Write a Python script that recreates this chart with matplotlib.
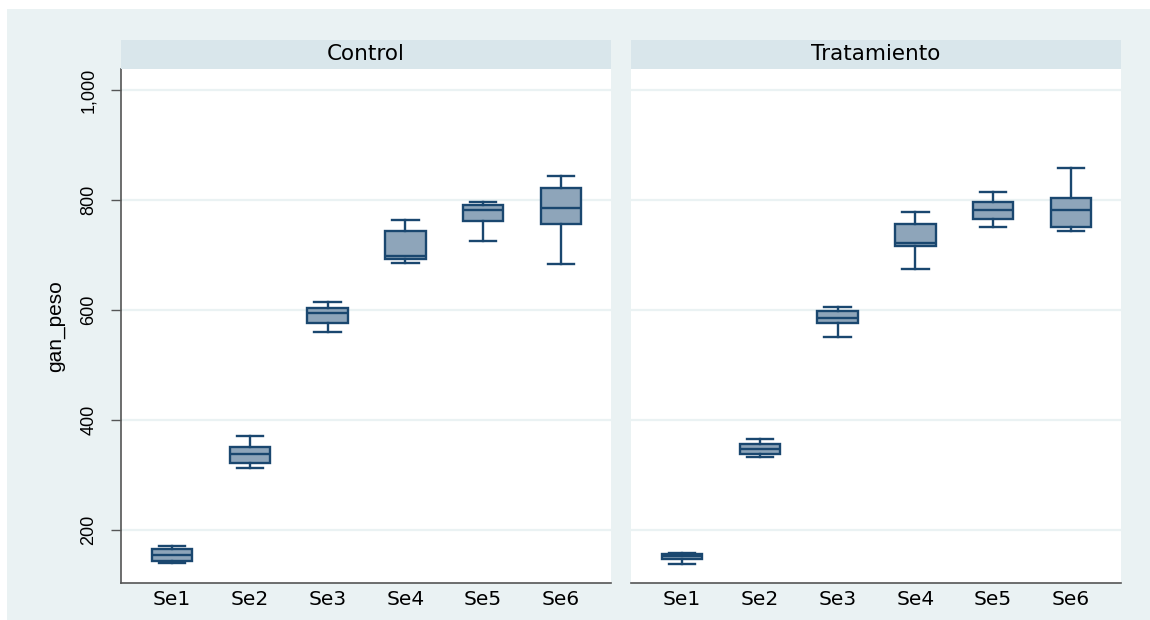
import matplotlib
matplotlib.use("Agg")
import matplotlib.pyplot as plt
from matplotlib.patches import Rectangle

plt.rcParams['font.family'] = ['Liberation Sans', 'DejaVu Sans']

weeks = ["Se1", "Se2", "Se3", "Se4", "Se5", "Se6"]
groups = ["Control", "Tratamiento"]

# per group: lower whisker, q1, median, q3, upper whisker
control_low = [140, 313, 560, 685, 725, 683]
control_q1 = [144, 322, 576, 693, 762, 756]
control_med = [155, 338, 594, 698, 781, 785]
control_q3 = [165, 351, 603, 743, 790, 821]
control_high = [171, 371, 614, 763, 796, 844]

trat_low = [138, 333, 550, 675, 751, 744]
trat_q1 = [148, 339, 576, 716, 765, 751]
trat_med = [152, 347, 585, 721, 781, 781]
trat_q3 = [157, 356, 598, 756, 796, 803]
trat_high = [159, 365, 605, 778, 814, 858]

yticks = [200, 400, 600, 800, 1000]
ytick_labels = ["200", "400", "600", "800", "1,000"]

data = {
    "Control": (control_low, control_q1, control_med, control_q3, control_high),
    "Tratamiento": (trat_low, trat_q1, trat_med, trat_q3, trat_high),
}

W, H = 1150, 620
fig = plt.figure(figsize=(W / 100, H / 100), dpi=100)
bg = "#EAF2F3"
fig.patches.append(Rectangle((7 / W, 0), 1 - 7 / W, 1 - 9 / H, transform=fig.transFigure,
                             facecolor=bg, edgecolor="none", zorder=-10))

navy = "#1A476F"
fill = "#8EA5BA"
lefts = [121, 631]
pw = 490
top_px, bot_px = 69, 583
head_top = 40
wide_font = ['DejaVu Sans']
narrow_font = ['Liberation Sans', 'DejaVu Sans']

for i, g in enumerate(groups):
    ax = fig.add_axes([lefts[i] / W, 1 - bot_px / H, pw / W, (bot_px - top_px) / H])
    ax.set_facecolor("white")
    lo, q1, med, q3, hi = data[g]
    stats = []
    for k in range(len(weeks)):
        stats.append(dict(whislo=lo[k], q1=q1[k], med=med[k], q3=q3[k], whishi=hi[k], label=weeks[k]))
    ax.bxp(stats, positions=range(1, len(weeks) + 1), widths=0.52, showfliers=False,
           patch_artist=True,
           boxprops=dict(facecolor=fill, edgecolor=navy, linewidth=1.7),
           medianprops=dict(color=navy, linewidth=1.7),
           whiskerprops=dict(color=navy, linewidth=1.7),
           capprops=dict(color=navy, linewidth=1.7),
           capwidths=0.34)
    ax.set_xlim(0.345, 6.645)
    ax.set_ylim(103.6, 1038)
    ax.set_yticks(yticks)
    for y in yticks:
        ax.axhline(y, color=bg, linewidth=1.6, zorder=0.5)
    ax.set_xticks(range(1, len(weeks) + 1))
    ax.set_xticklabels(weeks, fontsize=14.5, family=wide_font)
    ax.tick_params(axis='x', length=0, pad=5)
    for s in ["top", "right"]:
        ax.spines[s].set_visible(False)
    ax.spines["bottom"].set_color("#555555")
    ax.spines["bottom"].set_linewidth(1.2)
    if i == 0:
        ax.spines["left"].set_color("#555555")
        ax.spines["left"].set_linewidth(1.2)
        ax.set_yticklabels(ytick_labels, rotation=90, va="center", fontsize=13, family=narrow_font)
        ax.tick_params(axis='y', length=7, width=1, color="#555555", pad=10)
        ax.set_ylabel("gan_peso", fontsize=15, family=narrow_font, labelpad=11)
    else:
        ax.spines["left"].set_visible(False)
        ax.tick_params(axis='y', length=0, labelleft=False)
    # header strip
    hax = fig.add_axes([lefts[i] / W, 1 - top_px / H, pw / W, (top_px - head_top) / H])
    hax.set_facecolor("#D9E6EB")
    hax.set_xticks([])
    hax.set_yticks([])
    for s in hax.spines.values():
        s.set_visible(False)
    hax.text(0.5, 0.5, g, ha="center", va="center", fontsize=15.5, family=wide_font,
             transform=hax.transAxes)

fig.savefig("out.png", dpi=100)
